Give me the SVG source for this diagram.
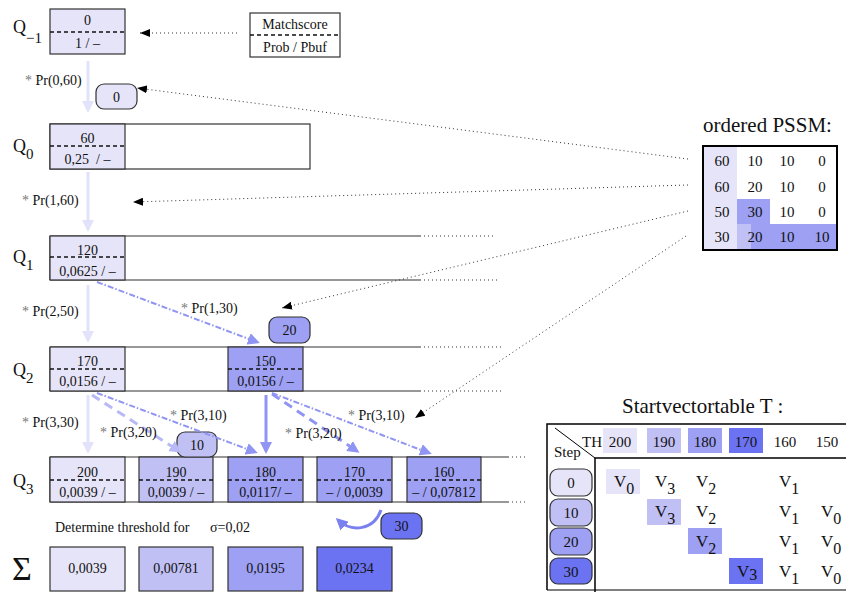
<svg xmlns="http://www.w3.org/2000/svg" width="846" height="592" viewBox="0 0 846 592" font-family="'Liberation Serif', 'DejaVu Serif', serif">
<style>
text{font-family:'Liberation Serif','DejaVu Serif',serif;fill:#111}
.t{font-size:14px;text-anchor:middle}
.s{font-size:14px}
.q{font-size:18px}
.qs{font-size:15px}
.box{stroke:#333;stroke-width:1.2}
.c1{fill:#e6e4f8}.c2{fill:#c0c0f5}.c3{fill:#9da0f3}.c4{fill:#6b73f2}
.dash{stroke:#111;stroke-width:1.3;stroke-dasharray:4 3;fill:none}
.row{stroke:#333;stroke-width:1.2;fill:none}
.dot{stroke:#333;stroke-width:1;stroke-dasharray:1 3;fill:none}
.star{fill:#777}
.th{font-size:15px;text-anchor:middle}
.v{font-size:17px}
.vs{font-size:16px}
</style>
<defs>
<marker id="mL" viewBox="0 0 12 12" refX="9" refY="6" markerWidth="12" markerHeight="12" markerUnits="userSpaceOnUse" orient="auto"><path d="M0,0 L12,6 L0,12 z" fill="#e2e2fa"/></marker>
<marker id="mM2" viewBox="0 0 12 12" refX="9" refY="6" markerWidth="12" markerHeight="12" markerUnits="userSpaceOnUse" orient="auto"><path d="M0,0 L12,6 L0,12 z" fill="#b8b9f6"/></marker>
<marker id="mM" viewBox="0 0 12 12" refX="9" refY="6" markerWidth="12" markerHeight="12" markerUnits="userSpaceOnUse" orient="auto"><path d="M0,0 L12,6 L0,12 z" fill="#9094f2"/></marker>
<marker id="mC" viewBox="0 0 12 12" refX="9" refY="6" markerWidth="12" markerHeight="12" markerUnits="userSpaceOnUse" orient="auto"><path d="M0,0 L12,6 L0,12 z" fill="#7a80f0"/></marker>
<marker id="mB" viewBox="0 0 10 8" refX="10" refY="4" markerWidth="10" markerHeight="8" markerUnits="userSpaceOnUse" orient="auto"><path d="M0,0 L10,4 L0,8 z" fill="#000"/></marker>
</defs>

<!-- Row outlines -->
<g id="rows">
<rect x="50" y="124" width="260" height="45" class="row" fill="#fff"/>
<path class="row" d="M50,236 H420 M50,280 H420 M50,236 V280"/>
<path class="dot" d="M420,236 H495 M420,280 H497"/>
<path class="row" d="M50,347 H420 M50,391 H420 M50,347 V391"/>
<path class="dot" d="M420,347 H503 M420,391 H503"/>
<path class="row" d="M50,457 H508 M50,502 H508 M50,457 V502"/>
<path class="dot" d="M508,457 H526 M508,502 H526"/>
</g>

<!-- Q labels -->
<g id="qlabels">
<text x="13" y="33" class="q">Q<tspan class="qs" dy="10">−1</tspan></text>
<text x="13" y="152" class="q">Q<tspan class="qs" dy="7">0</tspan></text>
<text x="13" y="263" class="q">Q<tspan class="qs" dy="7">1</tspan></text>
<text x="13" y="376" class="q">Q<tspan class="qs" dy="7">2</tspan></text>
<text x="13" y="487" class="q">Q<tspan class="qs" dy="7">3</tspan></text>
</g>

<g id="qm1_0">
<rect x="50" y="9" width="75" height="45" class="box c1"/>
<line x1="50" y1="32" x2="125" y2="32" class="dash"/>
<text x="87.5" y="25" class="t">0</text>
<text x="87.5" y="48" class="t">1 / –</text>
</g>

<g id="legend">
<rect x="250" y="13" width="90" height="44" class="box" fill="#fff"/>
<line x1="250" y1="35" x2="340" y2="35" class="dash"/>
<text x="295" y="29" class="t">Matchscore</text>
<text x="295" y="52" class="t">Prob / Pbuf</text>
</g>

<g id="q0_60">
<rect x="50" y="124" width="75" height="45" class="box c1"/>
<line x1="50" y1="146" x2="125" y2="146" class="dash"/>
<text x="87.5" y="143" class="t">60</text>
<text x="87.5" y="164" class="t" xml:space="preserve">0,25  / –</text>
</g>

<g id="q1_120">
<rect x="50" y="236" width="75" height="44" class="box c1"/>
<line x1="50" y1="257" x2="125" y2="257" class="dash"/>
<text x="87.5" y="255" class="t">120</text>
<text x="87.5" y="276" class="t">0,0625 / –</text>
</g>

<g id="q2_170">
<rect x="50" y="347" width="75" height="44" class="box c1"/>
<line x1="50" y1="369" x2="125" y2="369" class="dash"/>
<text x="87.5" y="366" class="t">170</text>
<text x="87.5" y="386" class="t">0,0156 / –</text>
</g>
<g id="q2_150">
<rect x="228" y="347" width="75" height="44" class="box c3"/>
<line x1="228" y1="369" x2="303" y2="369" class="dash"/>
<text x="265.5" y="366" class="t">150</text>
<text x="265.5" y="386" class="t">0,0156 / –</text>
</g>

<g id="q3_200">
<rect x="50" y="457" width="75" height="45" class="box c1"/>
<line x1="50" y1="480" x2="125" y2="480" class="dash"/>
<text x="87.5" y="477" class="t">200</text>
<text x="87.5" y="497" class="t">0,0039 / –</text>
</g>
<g id="q3_190">
<rect x="139" y="457" width="74" height="45" class="box c2"/>
<line x1="139" y1="480" x2="213" y2="480" class="dash"/>
<text x="176" y="477" class="t">190</text>
<text x="176" y="497" class="t">0,0039 / –</text>
</g>
<g id="q3_180">
<rect x="228" y="457" width="75" height="45" class="box c3"/>
<line x1="228" y1="480" x2="303" y2="480" class="dash"/>
<text x="265.5" y="477" class="t">180</text>
<text x="265.5" y="497" class="t">0,0117/ –</text>
</g>
<g id="q3_170">
<rect x="317" y="457" width="75" height="45" class="box c3"/>
<line x1="317" y1="480" x2="392" y2="480" class="dash"/>
<text x="354.5" y="477" class="t">170</text>
<text x="354.5" y="497" class="t">– / 0,0039</text>
</g>
<g id="q3_160">
<rect x="407" y="457" width="74" height="45" class="box c3"/>
<line x1="407" y1="480" x2="481" y2="480" class="dash"/>
<text x="444" y="477" class="t">160</text>
<text x="444" y="497" class="t">– / 0,07812</text>
</g>

<!-- Step badges -->
<g id="badge0"><rect x="96" y="84" width="41" height="25" rx="8" class="box c1"/><text x="116.5" y="102" class="t">0</text></g>
<g id="badge20"><rect x="269" y="317" width="41" height="26" rx="8" class="box c3"/><text x="289.5" y="335" class="t">20</text></g>
<g id="badge10"><rect x="177" y="432" width="40" height="25" rx="8" class="box c2"/><text x="197" y="450" class="t">10</text></g>
<g id="badge30"><rect x="381" y="513" width="41" height="26" rx="8" class="box c4"/><text x="401.5" y="531" class="t">30</text></g>

<!-- Connectors -->
<g id="connectors">
<line x1="88" y1="61" x2="88" y2="110" stroke="#e2e2fa" stroke-width="3" marker-end="url(#mL)"/>
<line x1="88" y1="172" x2="88" y2="229" stroke="#e2e2fa" stroke-width="3" marker-end="url(#mL)"/>
<line x1="88" y1="285" x2="88" y2="340" stroke="#e2e2fa" stroke-width="3" marker-end="url(#mL)"/>
<line x1="88" y1="395" x2="88" y2="451" stroke="#e2e2fa" stroke-width="3" marker-end="url(#mL)"/>
<line x1="97" y1="282" x2="257" y2="342" stroke="#9094f2" stroke-width="2" stroke-dasharray="6 2 1.5 2" marker-end="url(#mM)"/>
<line x1="92" y1="395" x2="179" y2="451" stroke="#b8b9f6" stroke-width="3" stroke-dasharray="9 6" marker-end="url(#mM2)"/>
<line x1="97" y1="393" x2="255" y2="452" stroke="#9094f2" stroke-width="2" stroke-dasharray="6 2 1.5 2" marker-end="url(#mM)"/>
<line x1="266" y1="395" x2="266" y2="451" stroke="#9094f2" stroke-width="3" marker-end="url(#mM)"/>
<line x1="272" y1="394" x2="357" y2="451" stroke="#9094f2" stroke-width="3" stroke-dasharray="9 6" marker-end="url(#mM)"/>
<line x1="272" y1="393" x2="429" y2="453" stroke="#9094f2" stroke-width="2" stroke-dasharray="6 2 1.5 2" marker-end="url(#mM)"/>
<path d="M381,510 C374,530 352,533 338,520" fill="none" stroke="#7a80f0" stroke-width="3" marker-end="url(#mC)"/>
<line x1="237" y1="33" x2="140" y2="33" class="dot" marker-end="url(#mB)"/>
<line x1="688" y1="159" x2="137" y2="88" class="dot" marker-end="url(#mB)"/>
<line x1="688" y1="185" x2="133" y2="202" class="dot" marker-end="url(#mB)"/>
<line x1="688" y1="211" x2="282" y2="308" class="dot" marker-end="url(#mB)"/>
<line x1="686" y1="236" x2="415" y2="418" class="dot" marker-end="url(#mB)"/>
</g>

<!-- Edge labels -->
<g id="edgelabels">
<text x="25" y="85" class="s"><tspan class="star">*</tspan> Pr(0,60)</text>
<text x="22" y="205" class="s"><tspan class="star">*</tspan> Pr(1,60)</text>
<text x="22" y="316" class="s"><tspan class="star">*</tspan> Pr(2,50)</text>
<text x="181" y="313" class="s"><tspan class="star">*</tspan> Pr(1,30)</text>
<text x="22" y="427" class="s"><tspan class="star">*</tspan> Pr(3,30)</text>
<text x="100" y="437" class="s"><tspan class="star">*</tspan> Pr(3,20)</text>
<text x="170" y="420" class="s"><tspan class="star">*</tspan> Pr(3,10)</text>
<text x="285" y="438" class="s"><tspan class="star">*</tspan> Pr(3,20)</text>
<text x="348" y="420" class="s"><tspan class="star">*</tspan> Pr(3,10)</text>
</g>

<g id="threshold">
<text x="55" y="532" class="s">Determine threshold for</text>
<text x="210" y="532" class="s">σ=0,02</text>
</g>

<g id="sums">
<text x="12" y="580" style="font-size:34px">Σ</text>
<g id="sum1"><rect x="50" y="547" width="75" height="44" class="box c1"/><text x="87.5" y="573" class="t">0,0039</text></g>
<g id="sum2"><rect x="139" y="547" width="74" height="44" class="box c2"/><text x="176" y="573" class="t">0,00781</text></g>
<g id="sum3"><rect x="228" y="547" width="75" height="44" class="box c3"/><text x="265.5" y="573" class="t">0,0195</text></g>
<g id="sum4"><rect x="317" y="547" width="75" height="44" class="box c4"/><text x="354.5" y="573" class="t">0,0234</text></g>
</g>

<!-- PSSM -->
<g id="pssm">
<text x="703" y="132" style="font-size:21px">ordered PSSM:</text>
<rect x="703" y="146" width="34" height="104" class="c1"/>
<rect x="737" y="199" width="33" height="25" class="c3"/>
<rect x="737" y="224" width="14" height="26" class="c2"/>
<rect x="751" y="224" width="86" height="26" class="c3"/>
<rect x="703" y="146" width="134" height="104" fill="none" stroke="#000" stroke-width="2"/>
<g>
<text x="722" y="166" class="th">60</text><text x="755" y="166" class="th">10</text><text x="787" y="166" class="th">10</text><text x="822" y="166" class="th">0</text>
<text x="722" y="192" class="th">60</text><text x="755" y="192" class="th">20</text><text x="787" y="192" class="th">10</text><text x="822" y="192" class="th">0</text>
<text x="722" y="217" class="th">50</text><text x="755" y="217" class="th">30</text><text x="787" y="217" class="th">10</text><text x="822" y="217" class="th">0</text>
<text x="722" y="242" class="th">30</text><text x="755" y="242" class="th">20</text><text x="787" y="242" class="th">10</text><text x="822" y="242" class="th">10</text>
</g>
</g>

<!-- Startvectortable -->
<g id="svtable">
<text x="622" y="413" style="font-size:21px">Startvectortable T :</text>
<path d="M547,590 V424 H846" fill="none" stroke="#000" stroke-width="1.5"/>
<path d="M595,592 V458 H846" fill="none" stroke="#000" stroke-width="1.5"/>
<line x1="555" y1="428" x2="595" y2="458" stroke="#000" stroke-width="1"/>
<line x1="547" y1="590" x2="846" y2="590" stroke="#000" stroke-width="1.2"/>
<text x="582" y="447" style="font-size:15px">TH</text>
<text x="554" y="457" style="font-size:15px">Step</text>
<rect x="603" y="428" width="34" height="25" class="c1"/>
<rect x="647" y="428" width="34" height="25" class="c2"/>
<rect x="688" y="428" width="34" height="25" class="c3"/>
<rect x="729" y="428" width="34" height="25" class="c4"/>
<g>
<text x="620" y="447" class="th">200</text><text x="664" y="447" class="th">190</text><text x="705" y="447" class="th">180</text><text x="746" y="447" class="th">170</text><text x="785" y="447" class="th">160</text><text x="827" y="447" class="th">150</text>
</g>
<g id="step0"><rect x="550" y="469" width="42" height="27" rx="8" class="box c1"/><text x="571" y="488" class="th">0</text></g>
<g id="step10"><rect x="550" y="499" width="42" height="27" rx="8" class="box c2"/><text x="571" y="518" class="th">10</text></g>
<g id="step20"><rect x="550" y="528" width="42" height="27" rx="8" class="box c3"/><text x="571" y="547" class="th">20</text></g>
<g id="step30"><rect x="550" y="558" width="42" height="26" rx="8" class="box c4"/><text x="571" y="577" class="th">30</text></g>
<rect x="606" y="469" width="34" height="25" class="c1"/>
<rect x="647" y="499" width="34" height="26" class="c2"/>
<rect x="688" y="528" width="34" height="26" class="c3"/>
<rect x="729" y="558" width="34" height="26" class="c4"/>
<g>
<text x="614" y="487" class="v">V<tspan class="vs" dy="7">0</tspan></text>
<text x="655" y="487" class="v">V<tspan class="vs" dy="7">3</tspan></text>
<text x="696" y="487" class="v">V<tspan class="vs" dy="7">2</tspan></text>
<text x="779" y="487" class="v">V<tspan class="vs" dy="7">1</tspan></text>
<text x="655" y="517" class="v">V<tspan class="vs" dy="7">3</tspan></text>
<text x="696" y="517" class="v">V<tspan class="vs" dy="7">2</tspan></text>
<text x="779" y="517" class="v">V<tspan class="vs" dy="7">1</tspan></text>
<text x="821" y="517" class="v">V<tspan class="vs" dy="7">0</tspan></text>
<text x="696" y="547" class="v">V<tspan class="vs" dy="7">2</tspan></text>
<text x="779" y="547" class="v">V<tspan class="vs" dy="7">1</tspan></text>
<text x="821" y="547" class="v">V<tspan class="vs" dy="7">0</tspan></text>
<text x="737" y="577" class="v">V<tspan class="vs" dy="3">3</tspan></text>
<text x="779" y="577" class="v">V<tspan class="vs" dy="7">1</tspan></text>
<text x="821" y="577" class="v">V<tspan class="vs" dy="7">0</tspan></text>
</g>
</g>
</svg>
